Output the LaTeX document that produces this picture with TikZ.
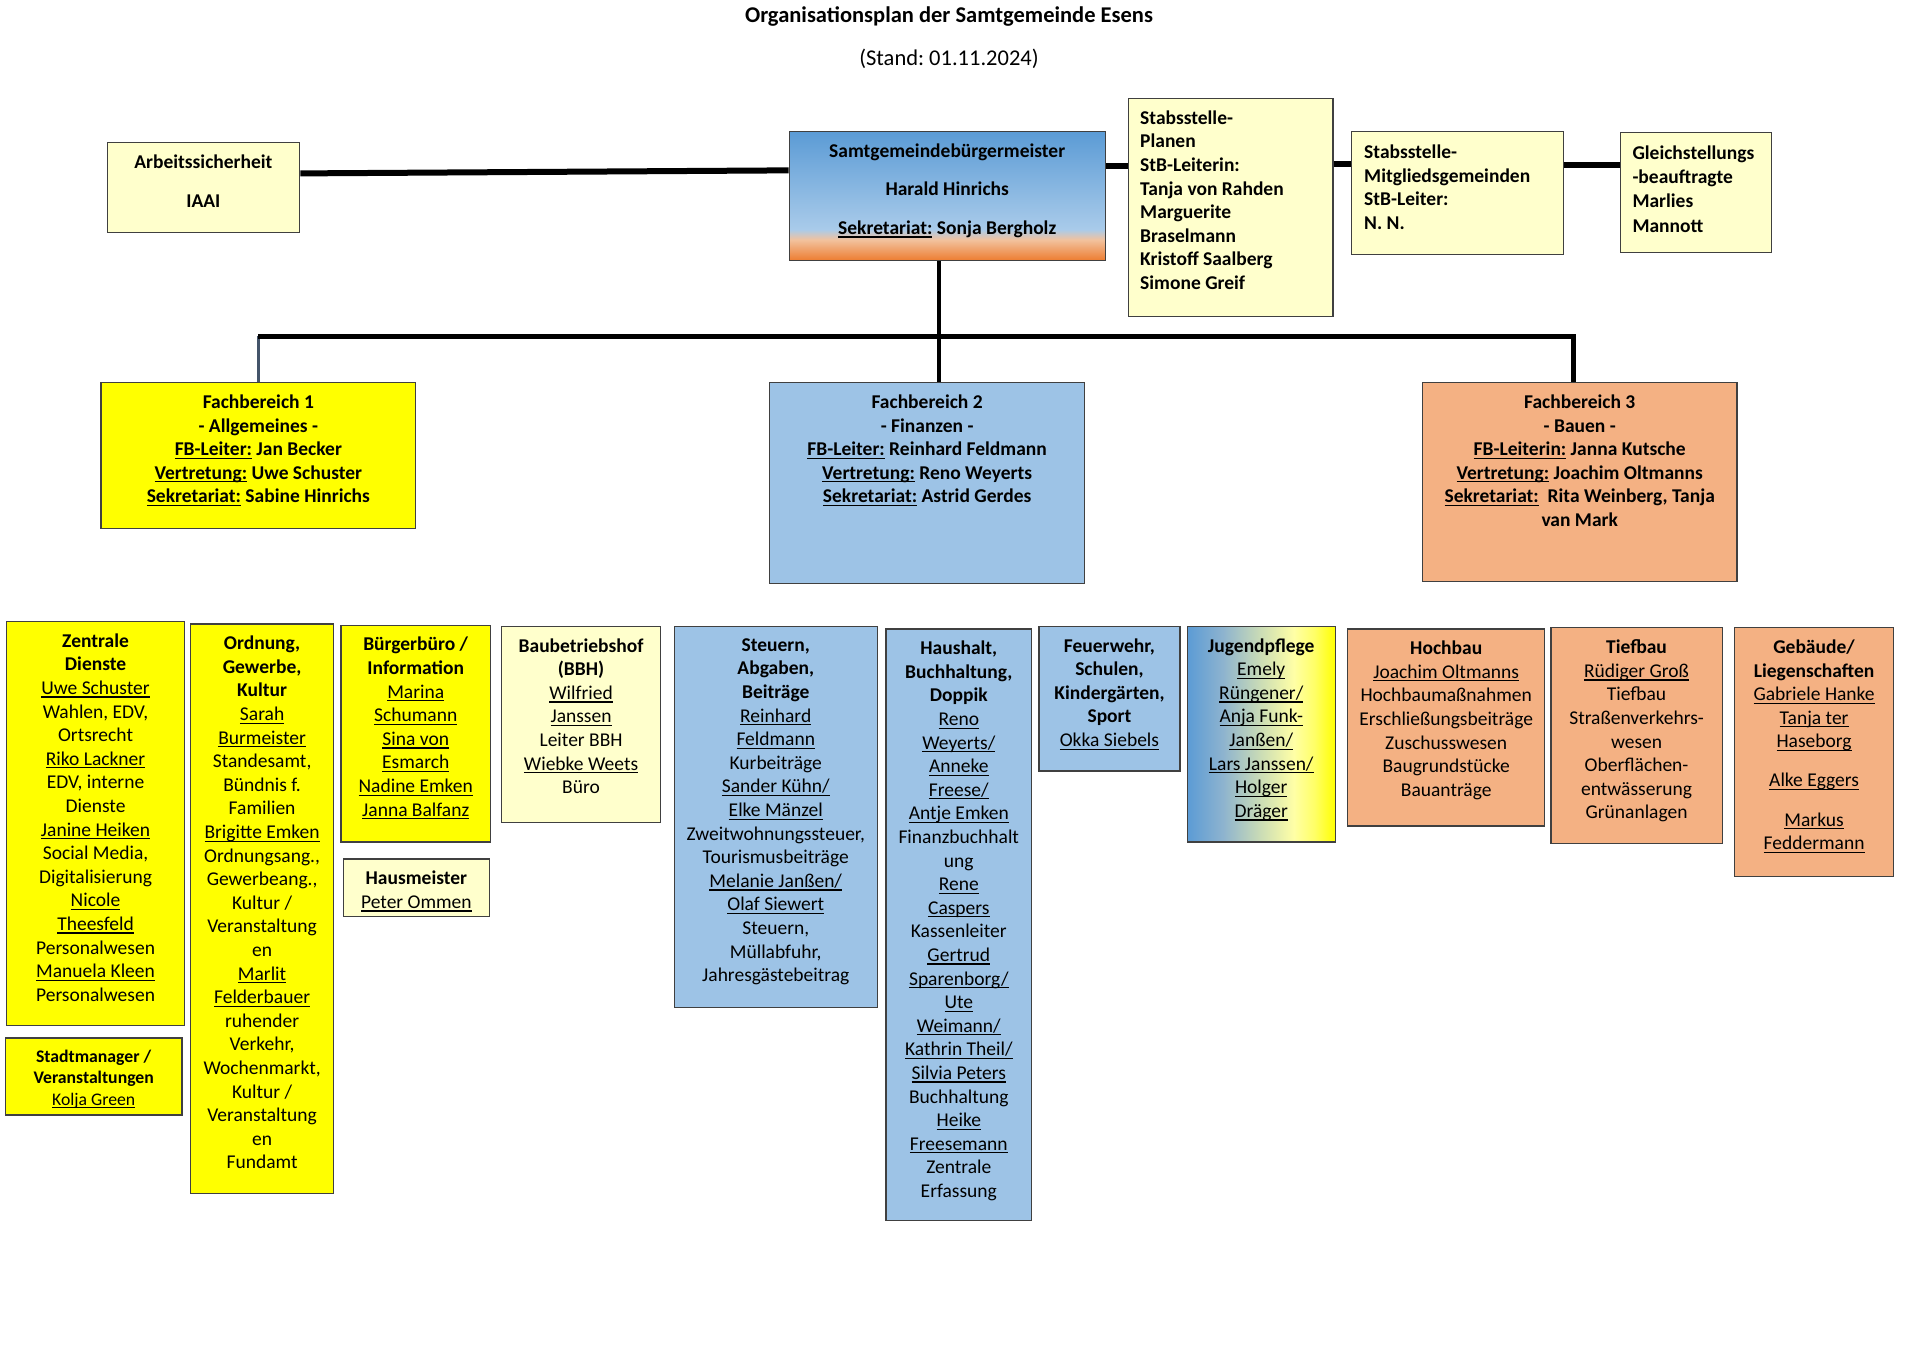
\documentclass[tikz,border=0pt]{standalone}
\usepackage{fontspec}
\setmainfont{Carlito}
\usetikzlibrary{calc}
\frenchspacing
\definecolor{yel}{HTML}{FFFF00}
\definecolor{lyel}{HTML}{FFFFCC}
\definecolor{lblue}{HTML}{9DC3E6}
\definecolor{lorange}{HTML}{F4B183}
\definecolor{dblue}{HTML}{5B9BD5}
\definecolor{dorange}{HTML}{ED7D31}
\definecolor{midblue}{HTML}{A9CBEA}
\definecolor{peach}{HTML}{F2C29E}
\definecolor{slate}{HTML}{44546A}
\definecolor{jga}{HTML}{8DB3CF}
\definecolor{jgb}{HTML}{CCDDB5}
\definecolor{jgc}{HTML}{FFFFA6}
\definecolor{jgd}{HTML}{FFFF66}
\pgfdeclareverticalshading{sgbmshade}{100bp}{color(0bp)=(dorange); color(25bp)=(dorange); color(33bp)=(peach); color(37bp)=(midblue); color(75bp)=(dblue); color(100bp)=(dblue)}
\pgfdeclarehorizontalshading{jugshade}{100bp}{color(0bp)=(dblue); color(25bp)=(dblue); color(37bp)=(jga); color(50bp)=(jgb); color(61bp)=(jgc); color(68bp)=(jgd); color(75bp)=(yel); color(100bp)=(yel)}
\newcommand\nfs{\fontsize{19.5pt}{23.6pt}\selectfont\frenchspacing}
\newcommand\sfs{\fontsize{17.7pt}{21.4pt}\selectfont\frenchspacing}
\newcommand\uln[1]{\leavevmode\setbox0=\hbox{#1}\rlap{\rule[-3.2pt]{\wd0}{1.2pt}}\box0\relax}
\tikzset{
  box/.style={draw=black!75, line width=1.3pt, inner sep=0pt, anchor=north west},
  txt/.style={inner sep=0pt, align=center, anchor=north, font=\nfs, execute at begin node={\strut}},
  ltxt/.style={inner sep=0pt, align=left, anchor=north west, font=\nfs\bfseries, execute at begin node={\strut}},
  conn/.style={line width=6pt, black},
}
% name, x, y, w, h, box style, text style, text
\newcommand\obox[8]{%
  \node[box,#6,minimum width=#4pt,minimum height=#5pt] (#1) at (#2,#3) {};
  \node[txt,#7] (#1t) at ($(#1.north)+(0,12.6)$) {#8};}
\begin{document}
\begin{tikzpicture}[x=1pt,y=-1pt]
\useasboundingbox (0,0) rectangle (1920,1358);
\fill[white] (0,0) rectangle (1920,1358);

% title
\node[font=\fontsize{22.5pt}{27pt}\selectfont\bfseries\frenchspacing, inner sep=0] (title) at (949,16.5) {Organisationsplan der Samtgemeinde Esens};
\node[font=\fontsize{22.5pt}{27pt}\selectfont\frenchspacing, inner sep=0] (stand) at (949,58.5) {(Stand: 01.11.2024)};

% top row
\obox{arb}{106.5}{142}{192.5}{89.5}{fill=lyel}{font=\nfs\bfseries}{Arbeitssicherheit\\[15.6pt]IAAI}
\obox{sgbm}{788.6}{131}{315.9}{128.6}{shading=sgbmshade}{font=\nfs\bfseries}{Samtgemeindebürgermeister\\[14.9pt]Harald Hinrichs\\[14.9pt]\uln{Sekretariat:} Sonja Bergholz}

\node[box,fill=lyel,minimum width=204.5pt,minimum height=218pt] (plan) at (1127.8,98) {};
\node[ltxt] (plant) at ($(plan.north west)+(12.2,12.5)$) {Stabsstelle-\\Planen\\StB-Leiterin:\\Tanja von Rahden\\Marguerite\\Braselmann\\Kristoff Saalberg\\Simone Greif};
\node[box,fill=lyel,minimum width=211.9pt,minimum height=122.5pt] (mitg) at (1350.6,131) {};
\node[ltxt] (mitgt) at ($(mitg.north west)+(13.4,13.8)$) {Stabsstelle-\\Mitgliedsgemeinden\\StB-Leiter:\\N. N.};
\node[box,fill=lyel,minimum width=150.6pt,minimum height=120pt] (gleich) at (1620,132) {};
\node[ltxt] (gleicht) at ($(gleich.north west)+(12.3,14)$) {Gleichstellungs\\-beauftragte\\Marlies\\[2pt]Mannott};

% Fachbereiche
\obox{fb1}{100.4}{382}{314.6}{146}{fill=yel}{font=\nfs\bfseries}{Fachbereich 1\\- Allgemeines -\\\uln{FB-Leiter:} Jan Becker\\\uln{Vertretung:} Uwe Schuster\\\uln{Sekretariat:} Sabine Hinrichs}
\obox{fb2}{769}{382}{315}{201}{fill=lblue}{font=\nfs\bfseries}{Fachbereich 2\\- Finanzen -\\\uln{FB-Leiter:} Reinhard Feldmann\\\uln{Vertretung:} Reno Weyerts\\\uln{Sekretariat:} Astrid Gerdes}
\obox{fb3}{1421.7}{382}{314.7}{198.5}{fill=lorange}{font=\nfs\bfseries}{Fachbereich 3\\- Bauen -\\\uln{FB-Leiterin:} Janna Kutsche\\\uln{Vertretung:} Joachim Oltmanns\\\uln{Sekretariat:}\ \ Rita Weinberg, Tanja\\van Mark}

% bottom boxes
\obox{zd}{6.1}{620.8}{177.6}{404.1}{fill=yel}{}{\textbf{Zentrale}\\\textbf{Dienste}\\\uln{Uwe Schuster}\\Wahlen, EDV,\\Ortsrecht\\\uln{Riko Lackner}\\EDV, interne\\Dienste\\\uln{Janine Heiken}\\Social Media,\\Digitalisierung\\\uln{Nicole}\\\uln{Theesfeld}\\Personalwesen\\\uln{Manuela Kleen}\\Personalwesen}
\obox{sm}{4.9}{1037.2}{176.3}{77.1}{fill=yel}{font=\sfs}{\textbf{Stadtmanager /}\\\textbf{Veranstaltungen}\\\uln{Kolja Green}}
\obox{ord}{189.8}{623.3}{143.3}{569.4}{fill=yel}{}{\textbf{Ordnung,}\\\textbf{Gewerbe,}\\\textbf{Kultur}\\\uln{Sarah}\\\uln{Burmeister}\\Standesamt,\\Bündnis f.\\Familien\\\uln{Brigitte Emken}\\Ordnungsang.,\\Gewerbeang.,\\Kultur /\\Veranstaltung\\en\\\uln{Marlit}\\\uln{Felderbauer}\\ruhender\\Verkehr,\\Wochenmarkt,\\Kultur /\\Veranstaltung\\en\\Fundamt}
\obox{bb}{340.4}{624.5}{149.4}{216.7}{fill=yel}{}{\textbf{Bürgerbüro /}\\\textbf{Information}\\\uln{Marina}\\\uln{Schumann}\\\uln{Sina von}\\\uln{Esmarch}\\\uln{Nadine Emken}\\\uln{Janna Balfanz}}
\obox{hm}{342.9}{858.4}{145.7}{57.6}{fill=lyel}{}{\textbf{Hausmeister}\\\uln{Peter Ommen}}
\obox{bbh}{500.8}{625.7}{159.2}{196}{fill=lyel}{}{\textbf{Baubetriebshof}\\\textbf{(BBH)}\\\uln{Wilfried}\\\uln{Janssen}\\Leiter BBH\\\uln{Wiebke Weets}\\Büro}
\obox{st}{673.5}{625.7}{203.2}{380.8}{fill=lblue}{}{\textbf{Steuern,}\\\textbf{Abgaben,}\\\textbf{Beiträge}\\\uln{Reinhard}\\\uln{Feldmann}\\Kurbeiträge\\\uln{Sander Kühn/}\\\uln{Elke Mänzel}\\Zweitwohnungssteuer,\\Tourismusbeiträge\\\uln{Melanie Janßen/}\\\uln{Olaf Siewert}\\Steuern,\\Müllabfuhr,\\Jahresgästebeitrag}
\obox{hh}{885.3}{628.2}{145.7}{591.4}{fill=lblue}{}{\textbf{Haushalt,}\\\textbf{Buchhaltung,}\\\textbf{Doppik}\\\uln{Reno}\\\uln{Weyerts/}\\\uln{Anneke}\\\uln{Freese/}\\\uln{Antje Emken}\\Finanzbuchhalt\\ung\\\uln{Rene}\\\uln{Caspers}\\Kassenleiter\\\uln{Gertrud}\\\uln{Sparenborg/}\\\uln{Ute}\\\uln{Weimann/}\\\uln{Kathrin Theil/}\\\uln{Silvia Peters}\\Buchhaltung\\\uln{Heike}\\\uln{Freesemann}\\Zentrale\\Erfassung}
\obox{fw}{1038.4}{625.7}{140.8}{144.5}{fill=lblue}{}{\textbf{Feuerwehr,}\\\textbf{Schulen,}\\\textbf{Kindergärten,}\\\textbf{Sport}\\\uln{Okka Siebels}}
\obox{jp}{1186.5}{625.7}{148.2}{215.5}{shading=jugshade}{}{\textbf{Jugendpflege}\\\uln{Emely}\\\uln{Rüngener/}\\\uln{Anja Funk-}\\\uln{Janßen/}\\\uln{Lars Janssen/}\\\uln{Holger}\\\uln{Dräger}}
\obox{hb}{1347}{628.2}{197.1}{197.1}{fill=lorange}{}{\textbf{Hochbau}\\\uln{Joachim Oltmanns}\\Hochbaumaßnahmen\\Erschließungsbeiträge\\Zuschusswesen\\Baugrundstücke\\Bauanträge}
\obox{tb}{1550.2}{627}{171.4}{215.5}{fill=lorange}{}{\textbf{Tiefbau}\\\uln{Rüdiger Groß}\\Tiefbau\\Straßenverkehrs-\\wesen\\Oberflächen-\\entwässerung\\Grünanlagen}
\obox{gb}{1733.9}{627}{159.1}{248.5}{fill=lorange}{}{\textbf{Gebäude/}\\\textbf{Liegenschaften}\\\uln{Gabriele Hanke}\\\uln{Tanja ter}\\\uln{Haseborg}\\[15.5pt]\uln{Alke Eggers}\\[15.5pt]\uln{Markus}\\\uln{Feddermann}}

% connectors
\coordinate (y166) at (0,166);
\coordinate (y164) at (0,164);
\coordinate (y165) at (0,165);
\coordinate (busy) at (0,336);
\coordinate (cx) at (939,0);
\coordinate (fb3top) at ($(fb3.north)+(-6,0)$);
\draw[conn] ($(arb.north east)!0.346!(arb.south east)$) -- ($(sgbm.north west)!0.303!(sgbm.south west)$);
\draw[conn] (sgbm.east |- y166) -- (plan.west |- y166);
\draw[conn] (plan.east |- y164) -- (mitg.west |- y164);
\draw[conn] (mitg.east |- y165) -- (gleich.west |- y165);
\draw[slate, line width=3pt] (fb1.north |- busy) -- (fb1.north);
\draw[line width=5pt, line join=miter] (fb1.north |- busy) -- (fb3top |- busy) -- (fb3top);
\draw[line width=4.5pt] (sgbm.south -| cx) -- (fb2.north -| cx);
\end{tikzpicture}
\end{document}
